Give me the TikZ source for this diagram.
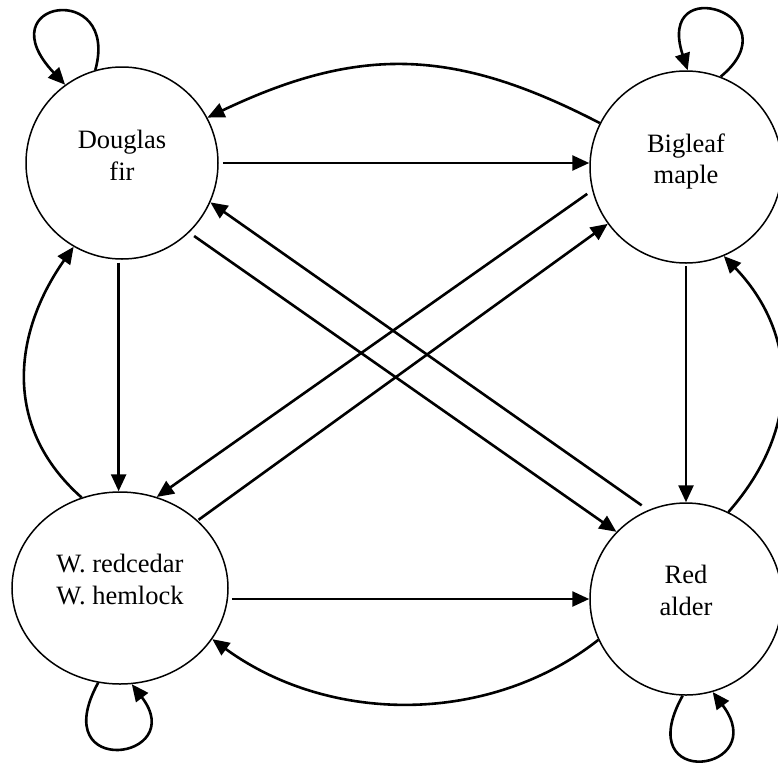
\documentclass[tikz,border=0pt]{standalone}
\usepackage{fontspec}
\setmainfont{Liberation Serif}
\usetikzlibrary{arrows.meta,shapes.geometric}
\begin{document}
\begin{tikzpicture}[x=1pt,y=-1pt,
  state/.style={draw, circle, line width=1.5pt, minimum size=192pt, inner sep=0pt},
  wstate/.style={draw, ellipse, line width=1.5pt, minimum width=216pt, minimum height=192pt, inner sep=0pt},
  lbl/.style={font=\fontsize{26.5}{32}\selectfont, anchor=base, inner sep=0pt},
  edge/.style={line width=2.6pt, -{Triangle[length=17pt,width=15pt]}}]
\useasboundingbox (0,0) rectangle (778,766);

\node[state]  (df) at (122,163) {};
\node[state]  (bm) at (686,167) {};
\node[wstate] (rw) at (120,588) {};
\node[state]  (ra) at (686,599) {};

\node[lbl] (df1) at ([yshift=15pt]df.center) {Douglas};
\node[lbl] (df2) at ([yshift=-17pt]df.center) {fir};
\node[lbl] (bm1) at ([yshift=15pt]bm.center) {Bigleaf};
\node[lbl] (bm2) at ([yshift=-16pt]bm.center) {maple};
\node[lbl] (rw1) at ([yshift=16pt]rw.center) {W. redcedar};
\node[lbl] (rw2) at ([yshift=-16pt]rw.center) {W. hemlock};
\node[lbl] (ra1) at ([yshift=16pt]ra.center) {Red};
\node[lbl] (ra2) at ([yshift=-16pt]ra.center) {alder};

% self loops
\draw[edge] (df.106) .. controls (120,-20) and (-15,0) .. (df.126);
\draw[edge] (bm.69) .. controls (795,15) and (655,-30) .. (bm.89);
\draw[edge] (rw.-103) .. controls (45,780) and (190,760) .. (rw.-83);
\draw[edge] (ra.-92) .. controls (629,792) and (773,772) .. (ra.-74);

% straight edges
\draw[edge, shorten <=4pt] (df.east) -- (df.east -| bm.west);
\draw[edge, shorten <=3pt] (df.-92) -- (df.-92 |- rw.north);
\draw[edge, shorten <=2pt] (bm.south) -- (ra.north);
\draw[edge, shorten <=3pt] (ra.west -| rw.east) -- (ra.west);
\draw[edge, shorten <=6pt] (df.-46) -- (ra.136);
\draw[edge, shorten <=8pt] (ra.113) -- (df.-24);
\draw[edge, shorten <=6pt] (bm.-166) -- (rw.68);
\draw[edge, shorten <=1pt] (rw.41) -- (bm.-144);

% curved edges
\draw[edge] (bm.153) .. controls (455,48) and (360,45) .. (df.28);
\draw[edge] (ra.-155) .. controls (490,725) and (330,725) .. (rw.-29);
\draw[edge] (rw.113) .. controls (0,425) and (15,330) .. (df.-120);
\draw[edge] (ra.64) .. controls (805,425) and (795,330) .. (bm.-67);
\end{tikzpicture}
\end{document}
